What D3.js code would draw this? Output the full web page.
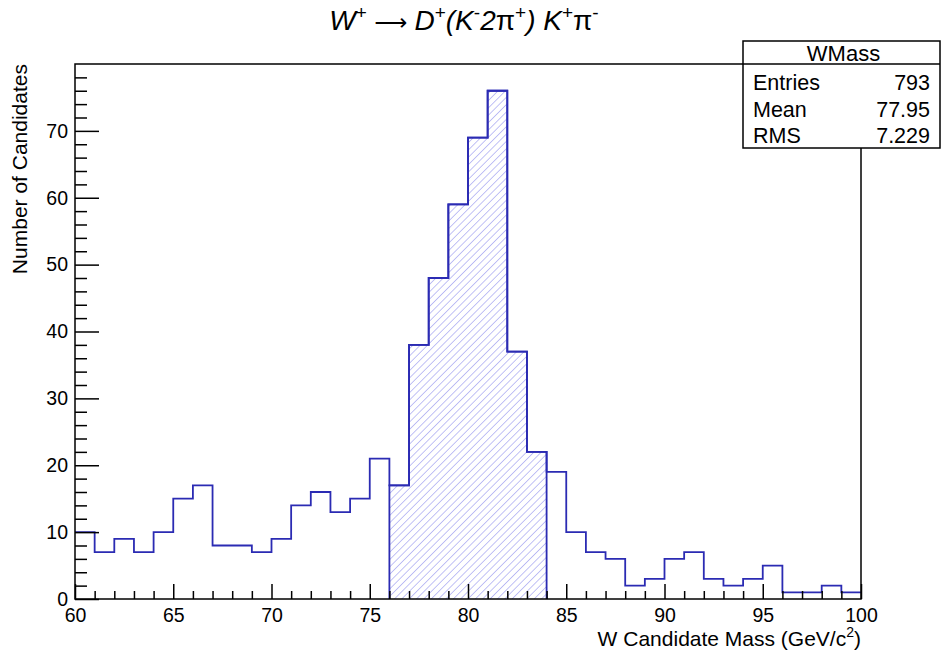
<!DOCTYPE html>
<html>
<head>
<meta charset="utf-8">
<script src="https://cdn.jsdelivr.net/npm/d3@7"></script>
<style>
    body { margin: 0; background: #fff; }
    svg { display: block; font-family: "Liberation Sans", Arial, sans-serif; }
    .axis path { display: none; }
    .axis line { stroke: #000; stroke-width: 1.5; }
    .axis text { font-size: 19.5px; fill: #000; font-family: "Liberation Sans", Arial, sans-serif; }
</style>
</head>
<body>
<div id="chart"></div>
<script>
// Histogram of W candidate mass, 1 GeV bins from 60 to 100
const binEdges = d3.range(60, 101, 1);
const counts = [10, 7, 9, 7, 10, 15, 17, 8, 8, 7,
                9, 14, 16, 13, 15, 21, 17, 38, 48, 59,
                69, 76, 37, 22, 19, 10, 7, 6, 2, 3,
                6, 7, 3, 2, 3, 5, 1, 1, 2, 1];
// signal window that gets the hatched fill
const signalRange = [76, 84];
const xTicks = [60, 65, 70, 75, 80, 85, 90, 95, 100];
const yTicks = [0, 10, 20, 30, 40, 50, 60, 70];
const statsRows = [['Entries', '793'], ['Mean', '77.95'], ['RMS', '7.229']];

const width = 941, height = 657;
const frame = { left: 75, right: 861, top: 64, bottom: 599 };
const lineColor = '#2b2bb3';
const hatchColor = '#9a9af0';

const svg = d3.select('#chart').append('svg')
    .attr('width', width)
    .attr('height', height);

const x = d3.scaleLinear().domain([60, 100]).range([frame.left, frame.right]);
const y = d3.scaleLinear().domain([0, 80]).range([frame.bottom, frame.top]);

// hatch pattern, lines going up to the right
const defs = svg.append('defs');
const pattern = defs.append('pattern')
    .attr('id', 'hatch')
    .attr('patternUnits', 'userSpaceOnUse')
    .attr('width', 5.2)
    .attr('height', 5.2)
    .attr('patternTransform', 'rotate(45)');
pattern.append('line')
    .attr('x1', 0).attr('y1', 0)
    .attr('x2', 0).attr('y2', 5.2)
    .attr('stroke', hatchColor)
    .attr('stroke-width', 1.2);

// build step outline points from the bins
function stepPoints(lo, hi, closeToZero) {
    const pts = [];
    counts.forEach((c, i) => {
        const a = binEdges[i], b = binEdges[i + 1];
        if (a < lo || b > hi) return;
        pts.push([x(a), y(c)]);
        pts.push([x(b), y(c)]);
    });
    if (closeToZero) {
        pts.unshift([x(lo), y(0)]);
        pts.push([x(hi), y(0)]);
    }
    return pts;
}

const line = d3.line();

// hatched signal region
const sigPts = stepPoints(signalRange[0], signalRange[1], true);
svg.append('path')
    .attr('d', line(sigPts) + 'Z')
    .attr('fill', 'url(#hatch)')
    .attr('stroke', 'none');

// main histogram outline
svg.append('path')
    .attr('d', line(stepPoints(60, 100, false)))
    .attr('fill', 'none')
    .attr('stroke', lineColor)
    .attr('stroke-width', 1.8);

// outline of the signal region
svg.append('path')
    .attr('d', line(sigPts))
    .attr('fill', 'none')
    .attr('stroke', lineColor)
    .attr('stroke-width', 1.8);

// axes, ticks pointing inward like ROOT
const xAxis = svg.append('g')
    .attr('class', 'axis')
    .attr('transform', `translate(0,${frame.bottom})`)
    .call(d3.axisBottom(x).tickValues(xTicks).tickSize(-15).tickPadding(3).tickFormat(d3.format('d')));
xAxis.selectAll('text').attr('dy', '1.0em');

svg.append('g')
    .attr('class', 'axis')
    .attr('transform', `translate(0,${frame.bottom})`)
    .call(d3.axisBottom(x).tickValues(d3.range(60, 101, 1).filter(v => v % 5 !== 0)).tickSize(-8).tickFormat(''));

svg.append('g')
    .attr('class', 'axis')
    .attr('transform', `translate(${frame.left},0)`)
    .call(d3.axisLeft(y).tickValues(yTicks).tickSize(-24).tickPadding(7).tickFormat(d3.format('d')));

svg.append('g')
    .attr('class', 'axis')
    .attr('transform', `translate(${frame.left},0)`)
    .call(d3.axisLeft(y).tickValues(d3.range(0, 81, 2).filter(v => v % 10 !== 0)).tickSize(-12).tickFormat(''));

// frame
svg.append('rect')
    .attr('x', frame.left)
    .attr('y', frame.top)
    .attr('width', frame.right - frame.left)
    .attr('height', frame.bottom - frame.top)
    .attr('fill', 'none')
    .attr('stroke', '#000')
    .attr('stroke-width', 1.5);

// axis titles
svg.append('text')
    .attr('x', frame.right)
    .attr('y', 646)
    .attr('text-anchor', 'end')
    .attr('font-size', 21)
    .html('W Candidate Mass (GeV/c<tspan dy="-9" font-size="14">2</tspan><tspan dy="9">)</tspan>');

svg.append('text')
    .attr('transform', `translate(27,${frame.top}) rotate(-90)`)
    .attr('text-anchor', 'end')
    .attr('font-size', 21)
    .text('Number of Candidates');

// title, built from pieces: [text, superscript?, italic?]
const titleParts = [
    ['W', false, true], ['+', true, false], [' \u27f6 ', false, false],
    ['D', false, true], ['+', true, false], ['(K', false, true], ['-', true, false],
    ['2', false, true], ['\u03c0', false, false], ['+', true, false], [') K', false, true],
    ['+', true, false], ['\u03c0', false, false], ['-', true, false]
];
const title = svg.append('text')
    .attr('x', 464)
    .attr('y', 30)
    .attr('text-anchor', 'middle')
    .attr('font-size', 28)
    .attr('xml:space', 'preserve')
    .style('white-space', 'pre');
let raised = false;
titleParts.forEach(p => {
    const t = title.append('tspan')
        .attr('font-style', p[2] ? 'italic' : 'normal')
        .attr('font-size', p[1] ? 19 : 28)
        .text(p[0]);
    if (p[1] && !raised) { t.attr('dy', -11); raised = true; }
    else if (!p[1] && raised) { t.attr('dy', 11); raised = false; }
    if (p[0].includes('\u27f6')) t.attr('font-family', 'DejaVu Sans').attr('font-size', 23);
});

// stats box
const box = { x: 743, y: 41, w: 197, h: 107, headH: 23 };
svg.append('rect')
    .attr('x', box.x).attr('y', box.y)
    .attr('width', box.w).attr('height', box.h)
    .attr('fill', '#fff')
    .attr('stroke', '#000')
    .attr('stroke-width', 1.5);
svg.append('line')
    .attr('x1', box.x).attr('x2', box.x + box.w)
    .attr('y1', box.y + box.headH).attr('y2', box.y + box.headH)
    .attr('stroke', '#000')
    .attr('stroke-width', 1.5);
svg.append('text')
    .attr('x', box.x + box.w / 2 + 2)
    .attr('y', 61)
    .attr('text-anchor', 'middle')
    .attr('font-size', 22)
    .text('WMass');
statsRows.forEach((r, i) => {
    const ty = 90 + i * 26.5;
    svg.append('text').attr('x', 753).attr('y', ty).attr('font-size', 21.5).text(r[0]);
    svg.append('text').attr('x', 930).attr('y', ty).attr('text-anchor', 'end').attr('font-size', 21.5).text(r[1]);
});
</script>
</body>
</html>
